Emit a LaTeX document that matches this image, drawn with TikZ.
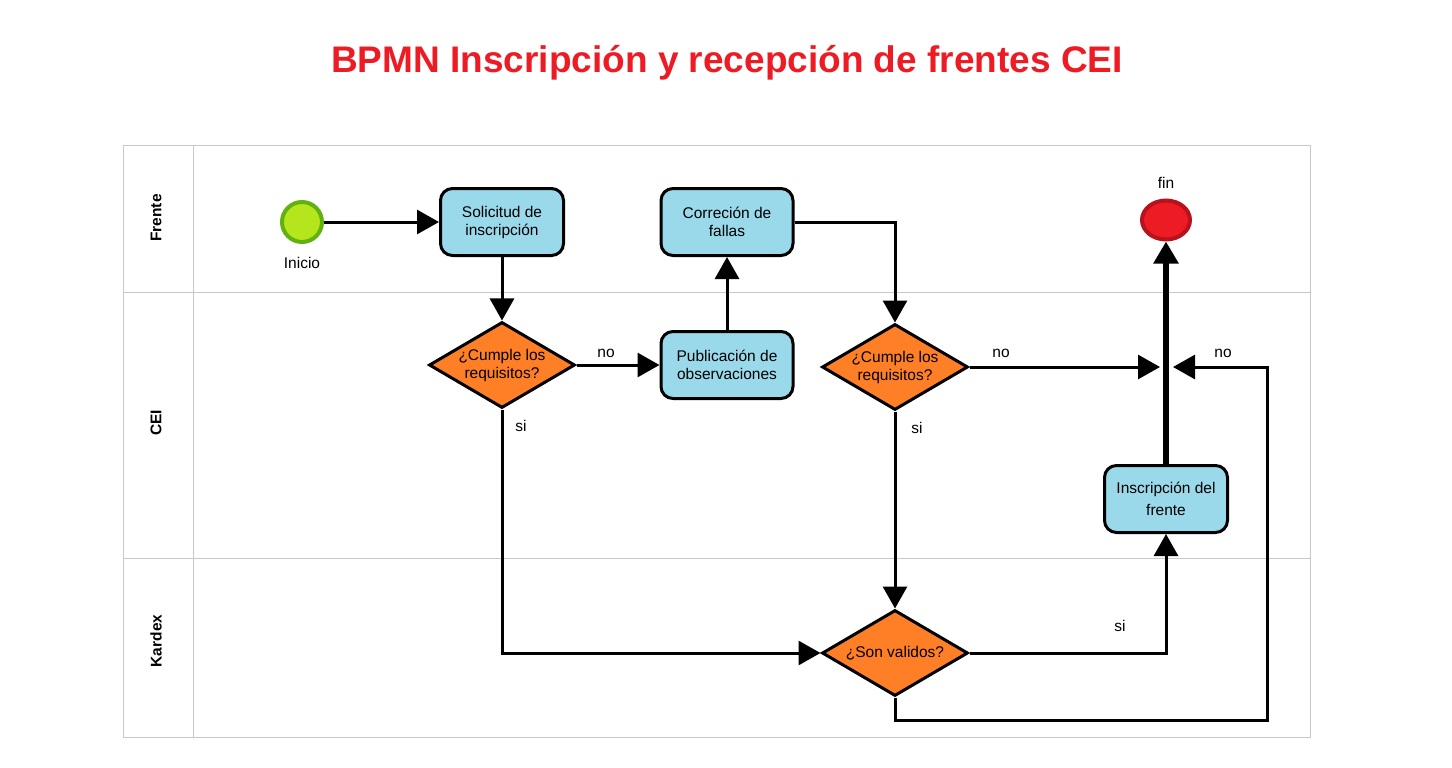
\documentclass[tikz,border=0pt]{standalone}
\usepackage{fontspec}
\setmainfont{Liberation Sans}
\usetikzlibrary{arrows.meta, shapes.geometric}

\definecolor{taskblue}{HTML}{99D9EA}
\definecolor{gworange}{HTML}{FF7F27}
\definecolor{startfill}{HTML}{B5E61D}
\definecolor{startline}{HTML}{62B10E}
\definecolor{endfill}{HTML}{ED1C24}
\definecolor{endline}{HTML}{B8121C}
\definecolor{titlered}{HTML}{ED1C24}
\definecolor{lanegray}{HTML}{C8C8C8}

\begin{document}
\begin{tikzpicture}[
        x=1pt, y=-1pt,
        every node/.style={font=\fontsize{15.5}{18}\selectfont},
        >={Triangle[length=22pt, width=24pt]},
        flow/.style={->, line width=3pt},
        task/.style={draw, line width=3pt, fill=taskblue, rounded corners=12pt,
            minimum width=123pt, minimum height=67pt, align=center, inner sep=0pt},
        gateway/.style={diamond, draw, line width=3pt, fill=gworange, aspect=1.68,
            minimum width=146pt, minimum height=86pt, align=center, inner sep=0pt},
        lanelabel/.style={rotate=90, font=\fontsize{15.5}{18}\selectfont\bfseries}
    ]
    \useasboundingbox (0,0) rectangle (1452,768);

% ---------- title ----------
    \node[text=titlered, font=\fontsize{37}{40}\selectfont\bfseries] (title) at (727,63)
    {BPMN Inscripción y recepción de frentes CEI};

% ---------- pool and lanes ----------
    \def\poolL{123}
    \def\poolR{1310}
    \def\headR{193}
    \begin{scope}[lanegray, line width=1pt]
        \draw (\poolL,145) rectangle (\poolR,737);
        \draw (\headR,145) -- (\headR,737);
        \foreach \y in {292,558}
        \draw (\poolL,\y) -- (\poolR,\y);
    \end{scope}
    \node[lanelabel] (laneF) at (156,218) {Frente};
    \node[lanelabel] (laneC) at (156,423) {CEI};
    \node[lanelabel] (laneK) at (156,641) {Kardex};

% ---------- events ----------
    \node[circle, draw=startline, fill=startfill, line width=4pt, minimum size=40pt] (inicio) at (302,222) {};
    \node (inicioL) at (302,263) {Inicio};
    \node[ellipse, draw=endline, fill=endfill, line width=4pt, minimum width=48pt, minimum height=39pt] (fin) at (1166,220) {};
    \node (finL) at (1166,183) {fin};

% ---------- tasks ----------
    \node[task] (solicitud) at (502,222) {Solicitud de\\inscripción};
    \node[task, minimum width=132pt] (correccion) at (727,222) {Correción de\\fallas};
    \node[task, minimum width=132pt] (publicacion) at (727,365) {Publicación de\\observaciones};
    \node[task, font=\fontsize{15.5}{22}\selectfont] (inscripcion) at (1166,499) {Inscripción del\\frente};

% ---------- gateways ----------
    \node[gateway] (cumple1) at (502,365) {¿Cumple los\\requisitos?};
    \node[gateway] (cumple2) at (895,367) {¿Cumple los\\requisitos?};
    \node[gateway] (validos) at (895,653) {¿Son validos?};

    % free ends next to the thick line into fin
    \coordinate (joinL) at (1160,367);
    \coordinate (joinR) at (1173,367);
    \coordinate (loopc) at (1267,720);

% ---------- sequence flows ----------
    \draw[flow] (inicio) -- (solicitud);
    \draw[flow] (solicitud) -- (cumple1);
    \draw[flow] (cumple1) -- (publicacion);
    \draw[flow] (publicacion) -- (correccion);
    \draw[flow] (correccion.east) -| (cumple2.north);
    \draw[flow] (cumple2.east) -- (joinL);
    \draw[flow] (cumple1.south) |- (validos.west);
    \draw[flow] (cumple2) -- (validos);
    \draw[flow] (validos.east) -| (inscripcion.south);
    \draw[flow] (validos.south) |- (loopc) |- (joinR);
    \draw[->, line width=6pt] (inscripcion) -- (fin);

% ---------- flow labels ----------
    \node (no1) at (606,353) {no};
    \node (si1) at (521,426) {si};
    \node (no2) at (1001,353) {no};
    \node (si2) at (917,428) {si};
    \node (si3) at (1120,626) {si};
    \node (no3) at (1223,353) {no};

\end{tikzpicture}
\end{document}
